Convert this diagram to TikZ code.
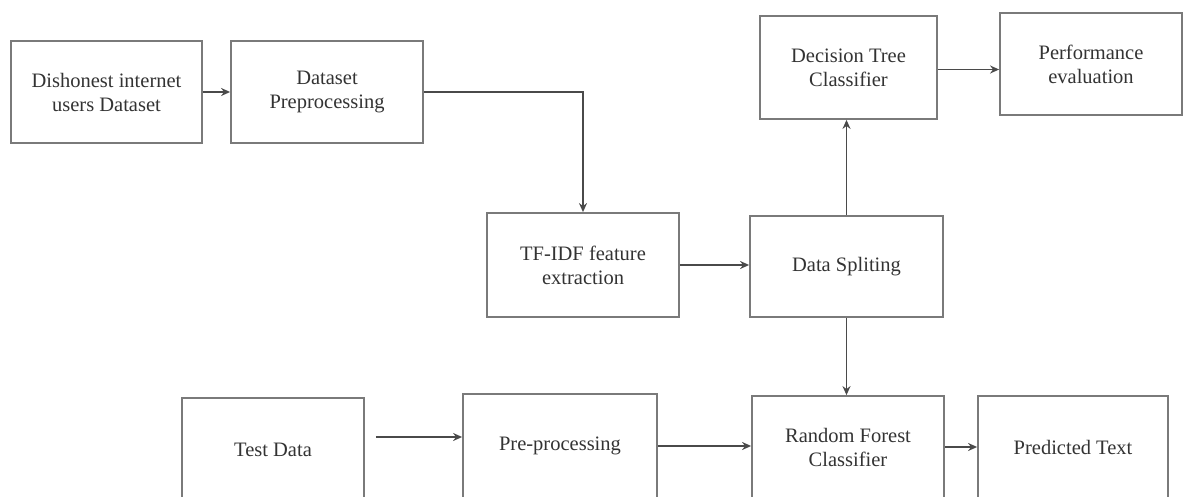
\documentclass[tikz,border=0pt]{standalone}
\usepackage{fontspec}
\setmainfont{Liberation Serif}
\usetikzlibrary{arrows.meta}
\definecolor{boxline}{HTML}{7A7A7A}
\definecolor{conline}{HTML}{4A4A4A}
\definecolor{txt}{HTML}{333333}
\begin{document}
\begin{tikzpicture}[x=1pt,y=-1pt,
  box/.style={draw=boxline,line width=1.8pt,rectangle,align=center,inner sep=0pt,
    text=txt,font=\fontsize{20.5}{24}\selectfont},
  arr/.style={draw=conline,line width=1.5pt,-{Stealth[length=9pt,width=8pt]}}]
\useasboundingbox (0,0) rectangle (1188,497);
\clip (0,0) rectangle (1188,497);
\fill[white] (0,0) rectangle (1188,497);
\node[box,minimum width=191pt,minimum height=102pt] (ds) at (106.5,92) {Dishonest internet\\users Dataset};
\node[box,minimum width=192pt,minimum height=102pt] (pp) at (327,92) {Dataset\\Preprocessing};
\node[box,minimum width=177pt,minimum height=103pt] (dt) at (848.5,67.5) {Decision Tree\\Classifier};
\node[box,minimum width=182pt,minimum height=102pt] (pe) at (1091,64) {Performance\\evaluation};
\node[box,minimum width=192pt,minimum height=104pt] (tf) at (583,265) {TF-IDF feature\\extraction};
\node[box,minimum width=193pt,minimum height=101pt] (dsp) at (846.5,266.5) {Data Spliting};
\node[box,minimum width=182pt,minimum height=104pt] (td) at (273,450) {Test Data};
\node[box,minimum width=194pt,minimum height=104pt] (pre) at (560,446) {Pre-processing};
\node[box,minimum width=192pt,minimum height=102pt] (rf) at (848,447) {Random Forest\\Classifier};
\node[box,minimum width=190pt,minimum height=102pt] (pt) at (1073,447) {Predicted Text};
\draw[arr] (ds.east) -- (pp.west);
\draw[arr] (pp.east) -| (tf.north);
\draw[arr] (dsp.north) -- (dsp.north |- dt.south);
\draw[arr] ([yshift=-2pt]dt.east) coordinate (a) -- (a -| pe.west);
\draw[arr] (tf.east) -- (tf.east -| dsp.west);
\draw[arr] (dsp.south) -- (dsp.south |- rf.north);
\draw[arr] ([xshift=11pt,yshift=13pt]td.east) coordinate (s) -- (s -| pre.west);
\draw[arr] (pre.east) -- (pre.east -| rf.west);
\draw[arr] (rf.east) -- (pt.west);
\end{tikzpicture}
\end{document}
